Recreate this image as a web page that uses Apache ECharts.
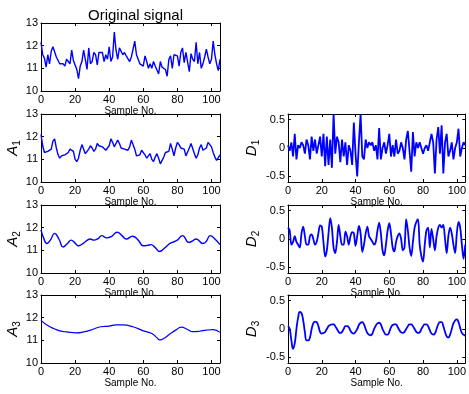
<!DOCTYPE html>
<html><head><meta charset="utf-8">
<script src="https://cdn.jsdelivr.net/npm/echarts@6/dist/echarts.min.js"></script>
<style>html,body{margin:0;padding:0;background:#fff}#c{width:469px;height:394px}</style>
</head><body><div id="c"></div>
<script>
// ---- data ----
const xTicks = [0, 20, 40, 60, 80, 100];
const aTicks = [10, 11, 12, 13];
const dTicks = [-0.5, 0, 0.5];

const original = [12.15,11.6,11.45,11.05,11.6,11.2,11.75,11.95,12.0,11.5,
 11.55,11.2,11.2,11.2,11.1,11.4,11.3,11.2,11.8,11.35,
 11.4,10.95,10.55,11.1,11.3,11.8,11.4,10.95,11.9,11.2,
 11.3,11.7,11.6,11.15,11.7,11.65,11.7,11.3,11.6,11.4,
 11.95,11.3,11.5,12.6,11.8,11.4,11.9,11.85,11.6,11.7,
 11.55,11.55,11.3,11.5,11.45,12.2,11.6,11.4,11.2,11.15,
 11.1,11.55,11.3,11.0,11.2,11.0,11.3,11.1,11.15,10.75,
 11.3,11.05,11.0,10.95,10.65,11.4,11.55,11.0,11.6,11.65,
 11.55,11.1,11.7,11.9,11.25,11.7,11.75,10.85,11.65,11.4,
 11.3,12.15,11.2,11.7,11.0,11.2,11.5,11.85,11.5,11.2,
 11.4,12.2,11.6,11.2,10.9,11.4];

const a1 = [12.1,11.6,11.3,11.25,11.35,11.4,11.45,11.8,11.9,11.5,
 11.2,11.05,11.15,11.2,11.2,11.25,11.3,11.45,11.5,11.35,
 11.0,10.9,11.05,11.4,11.65,11.6,11.25,11.3,11.45,11.6,
 11.5,11.35,11.45,11.7,11.6,11.65,11.55,11.6,11.4,11.5,
 11.6,11.9,11.75,11.55,11.7,11.85,11.7,11.5,11.5,11.45,
 11.4,11.4,11.55,11.85,11.8,11.45,11.15,11.1,11.2,11.4,
 11.4,11.2,11.05,11.15,11.25,11.0,10.9,11.1,11.25,11.05,
 10.8,10.85,11.1,11.3,11.25,11.35,11.7,11.45,11.15,11.5,
 11.75,11.65,11.5,11.5,11.45,11.15,11.2,11.5,11.7,11.65,
 11.25,11.05,11.2,11.5,11.65,11.4,11.35,11.5,11.75,11.8,
 11.55,11.3,11.1,10.95,10.9,11.2];

const a2X = [0,1.5,3.5,5.5,8,10.5,13,15.5,17.7,20,22,25,29,31,33.5,35.6,38.5,41.5,44.7,47.5,50,53.7,57,60,62.5,64.4,67,69.6,72.5,75,77,80,83,86.8,89,91,95,97,99.2,102,105];
const a2Y = [11.9,11.55,11.3,11.45,11.75,11.5,11.15,11.3,11.45,11.32,11.2,11.32,11.5,11.45,11.52,11.65,11.55,11.62,11.8,11.65,11.5,11.62,11.45,11.2,11.22,11.25,11.12,10.95,11.1,11.27,11.35,11.45,11.65,11.35,11.42,11.5,11.3,11.4,11.65,11.5,11.25];

const a3X = [0,3,7.4,11,15,21,25,29,35,40,44,48,54,60,65,68,69.6,72,76,79,82.3,86,89,93,97,101,105];
const a3Y = [11.88,11.7,11.52,11.42,11.37,11.33,11.37,11.45,11.6,11.63,11.68,11.68,11.6,11.42,11.3,11.12,11.02,11.08,11.3,11.45,11.58,11.48,11.38,11.4,11.45,11.47,11.35];

const d1 = [0.05,-0.05,0.1,-0.15,0.25,-0.2,0.05,0.0,0.1,0.05,
 -0.1,0.15,0.05,-0.2,0.2,-0.05,0.15,-0.1,0.05,0.2,
 -0.15,0.25,-0.32,0.2,-0.3,0.15,-0.35,0.6,-0.1,0.2,
 0.1,-0.25,0.15,-0.15,0.1,-0.3,0.05,-0.05,-0.3,0.45,
 -0.1,-0.5,0.1,0.6,-0.15,-0.2,0.15,0.0,0.1,0.05,
 0.1,-0.05,0.05,-0.2,0.35,-0.2,0.0,0.1,-0.1,0.05,
 0.25,-0.15,0.05,-0.15,0.15,-0.1,-0.05,0.1,0.0,-0.2,
 0.15,0.3,0.3,-0.42,0.28,-0.15,0.1,0.0,0.1,0.0,
 -0.1,0.0,0.05,-0.05,0.1,0.25,0.1,-0.45,0.15,0.37,
 -0.1,0.4,-0.45,0.1,0.25,-0.15,-0.05,0.1,-0.2,0.0,
 0.1,0.34,-0.15,0.0,0.1,0.05];

const d2 = [0.2,0.15,-0.1,-0.05,0.05,-0.05,-0.1,-0.15,0.1,0.22,
 0.05,-0.1,-0.1,0.05,0.08,0.0,-0.1,-0.05,0.1,0.24,
 0.22,-0.05,-0.31,-0.2,0.1,0.37,0.2,-0.15,-0.25,-0.05,
 0.25,0.05,-0.1,-0.1,0.13,0.05,-0.1,0.05,0.12,0.1,
 -0.12,0.05,0.23,0.1,-0.23,-0.1,0.1,0.22,0.05,0.0,
 -0.05,-0.1,-0.05,0.15,0.29,0.1,-0.2,-0.29,-0.1,0.15,
 0.28,0.1,-0.15,-0.22,-0.05,0.05,0.1,0.0,-0.2,-0.15,
 0.35,0.15,-0.15,-0.3,-0.05,0.2,0.3,0.35,-0.1,-0.3,
 -0.4,-0.1,0.15,0.2,-0.15,0.18,0.0,-0.2,0.05,0.2,
 0.25,0.2,0.25,0.0,-0.25,0.05,0.2,0.1,-0.1,-0.25,
 0.1,0.3,0.2,-0.1,-0.35,-0.1];

const d3 = [0.05,0.0,-0.2,-0.35,-0.25,0.0,0.2,0.3,0.28,0.15,
 -0.05,-0.2,-0.2,-0.15,0.0,0.1,0.13,0.12,0.05,-0.05,
 -0.08,-0.07,-0.05,0.0,0.05,0.07,0.08,0.08,0.05,0.0,
 -0.05,-0.07,-0.05,0.0,0.05,0.05,0.03,-0.03,-0.07,-0.08,
 -0.05,0.0,0.07,0.11,0.12,0.08,0.0,-0.07,-0.1,-0.11,
 -0.08,0.0,0.06,0.1,0.11,0.08,0.0,-0.06,-0.1,-0.1,
 -0.05,0.03,0.07,0.08,0.08,0.03,-0.02,-0.06,-0.07,-0.05,
 0.0,0.05,0.08,0.08,0.05,0.0,-0.05,-0.07,-0.06,0.0,
 0.05,0.08,0.08,0.05,-0.02,-0.08,-0.1,-0.08,0.0,0.08,
 0.12,0.12,0.05,-0.05,-0.13,-0.15,-0.1,0.0,0.1,0.15,
 0.17,0.12,0.02,-0.07,-0.1,-0.12];

// ---- layout ----
const FONT = 'Liberation Sans, Arial, sans-serif';
const grids = [
  {left: 41, top: 23, width: 179, height: 68},
  {left: 41, top: 114, width: 179, height: 68},
  {left: 41, top: 205, width: 179, height: 68},
  {left: 41, top: 295, width: 179, height: 68},
  {left: 288, top: 114, width: 179, height: 68},
  {left: 288, top: 205, width: 179, height: 68},
  {left: 288, top: 295, width: 179, height: 68}
];
const panels = [
  {y: original, min: 10, max: 13, ticks: aTicks, name: '', lw: 1.4},
  {y: a1, min: 10, max: 13, ticks: aTicks, name: '{i|A}{s|1}', lw: 1.4},
  {x: a2X, y: a2Y, min: 10, max: 13, ticks: aTicks, name: '{i|A}{s|2}', lw: 1.4, smooth: true},
  {x: a3X, y: a3Y, min: 10, max: 13, ticks: aTicks, name: '{i|A}{s|3}', lw: 1.2, smooth: true},
  {y: d1, min: -0.6, max: 0.6, ticks: dTicks, name: '{i|D}{s|1}', lw: 1.8},
  {y: d2, min: -0.6, max: 0.6, ticks: dTicks, name: '{i|D}{s|2}', lw: 1.8, smooth: 0.3},
  {y: d3, min: -0.6, max: 0.6, ticks: dTicks, name: '{i|D}{s|3}', lw: 1.8, smooth: true}
];

const black = '#000';
const xAxis = [], yAxis = [], series = [];
panels.forEach((p, i) => {
  const base = {gridIndex: i, type: 'value', min: 0, max: 105,
    axisLine: {onZero: false, lineStyle: {color: black, width: 1}},
    axisTick: {inside: true, length: 3, customValues: xTicks, lineStyle: {color: black}},
    splitLine: {show: false}};
  xAxis.push(Object.assign({}, base, {position: 'bottom',
    axisLabel: {customValues: xTicks, margin: 3, fontSize: 11, color: black, fontFamily: FONT},
    name: 'Sample No.', nameLocation: 'middle', nameGap: 12,
    nameTextStyle: {fontSize: 10, color: black, fontFamily: FONT}}));
  xAxis.push(Object.assign({}, base, {position: 'top', axisLabel: {show: false}}));
  const ybase = {gridIndex: i, type: 'value', min: p.min, max: p.max,
    axisLine: {onZero: false, lineStyle: {color: black, width: 1}},
    axisTick: {inside: true, length: 3, customValues: p.ticks, lineStyle: {color: black}},
    splitLine: {show: false}};
  yAxis.push(Object.assign({}, ybase, {position: 'left',
    axisLabel: {customValues: p.ticks, margin: 3, fontSize: 11, color: black, fontFamily: FONT},
    name: p.name, nameLocation: 'middle', nameRotate: 90, nameGap: i >= 4 ? 27 : 19,
    nameTextStyle: {color: black, fontFamily: FONT,
      rich: {i: {fontStyle: 'italic', fontSize: 15, lineHeight: 18, fontFamily: FONT, color: black},
             s: {fontSize: 10, lineHeight: 10, padding: [8, 0, 0, 0], verticalAlign: 'bottom', fontFamily: FONT, color: black}}}}));
  yAxis.push(Object.assign({}, ybase, {position: 'right', axisLabel: {show: false}}));
  const data = p.y.map((v, k) => [p.x ? p.x[k] : k, v]);
  series.push({type: 'line', xAxisIndex: 2 * i, yAxisIndex: 2 * i, data: data,
    showSymbol: false, smooth: p.smooth || false, clip: true,
    lineStyle: {color: '#0000ff', width: p.lw}, silent: true, animation: false});
});

const chart = echarts.init(document.getElementById('c'), null, {renderer: 'canvas'});
chart.setOption({
  animation: false,
  backgroundColor: '#fff',
  title: {text: 'Original signal', left: 130.5, top: 3, textAlign: 'center',
    textStyle: {fontSize: 15, fontWeight: 'normal', color: black, fontFamily: FONT}},
  grid: grids,
  xAxis: xAxis,
  yAxis: yAxis,
  series: series
});
</script></body></html>
